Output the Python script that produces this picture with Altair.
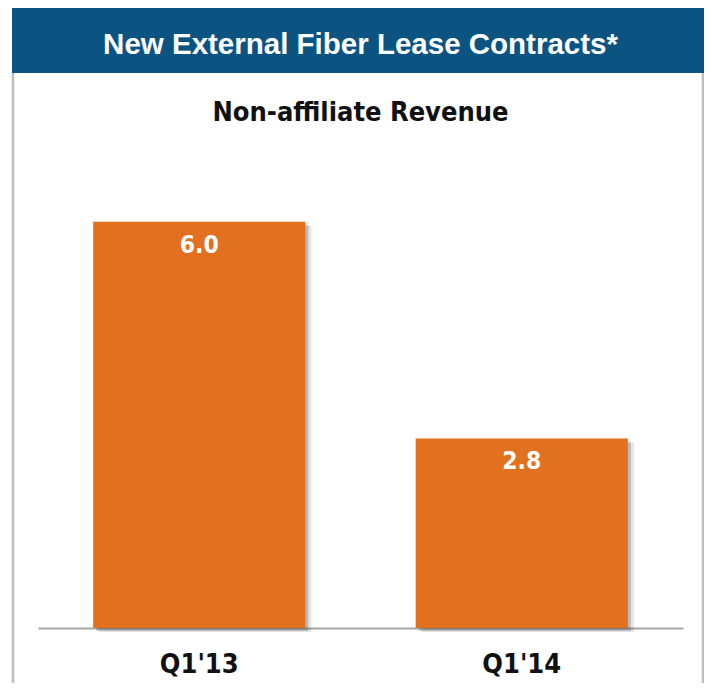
import altair as alt
import pandas as pd

categories = ["Q1'13", "Q1'14"]
values = [6.0, 2.8]
value_labels = ["6.0", "2.8"]
title_text = ["New External Fiber Lease Contracts*"]
subtitle_text = ["Non-affiliate Revenue"]

df = pd.DataFrame({"period": categories, "revenue": values, "label": value_labels})
title_df = pd.DataFrame({"t": title_text})
subtitle_df = pd.DataFrame({"t": subtitle_text})

BLUE = "#0B5482"
ORANGE = "#E1701F"
COND = "DejaVu Sans Condensed"

x = alt.X(
    "period:N",
    sort=categories,
    scale=alt.Scale(paddingInner=0.342, paddingOuter=0.171),
    axis=alt.Axis(
        title=None, ticks=False, labelAngle=0, grid=False,
        labelFont=COND, labelFontWeight="bold", labelFontSize=27,
        labelColor="#111111", labelPadding=23,
        domainColor="#A6A6A6", domainWidth=2,
    ),
)
y = alt.Y("revenue:Q", scale=alt.Scale(domain=[0, 7]), axis=None)

base = alt.Chart(df)

shadow1 = base.mark_bar(color="#000000", opacity=0.10, xOffset=6, yOffset=4).encode(x=x, y=y)
shadow2 = base.mark_bar(color="#000000", opacity=0.18, xOffset=3, yOffset=3).encode(x=x, y=y)
bars = base.mark_bar(color=ORANGE).encode(x=x, y=y)
vals = base.mark_text(
    color="white", font=COND, fontWeight="bold", fontSize=24.5,
    baseline="alphabetic", dy=31,
).encode(x=x, y=y, text="label:N")

header = alt.Chart(title_df).mark_rect(color=BLUE).encode(
    x=alt.value(-26), x2=alt.value(666), y=alt.value(-146), y2=alt.value(-81)
)
header_text = alt.Chart(title_df).mark_text(
    color="white", font="Liberation Sans", fontWeight="bold", fontSize=29.5,
    baseline="alphabetic", align="center",
).encode(x=alt.value(322.5), y=alt.value(-100), text="t:N")

subtitle = alt.Chart(subtitle_df).mark_text(
    color="#111111", font=COND, fontWeight="bold", fontSize=27,
    baseline="alphabetic", align="center",
).encode(x=alt.value(322.5), y=alt.value(-33), text="t:N")

border_l = alt.Chart(title_df).mark_rule(color="#BDBDBD", strokeWidth=2.5).encode(
    x=alt.value(-25), y=alt.value(-81), y2=alt.value(529)
)
border_r = alt.Chart(title_df).mark_rule(color="#BDBDBD", strokeWidth=2.5).encode(
    x=alt.value(665), y=alt.value(-81), y2=alt.value(529)
)

chart = alt.layer(
    header, header_text, subtitle, border_l, border_r, shadow1, shadow2, bars, vals
).properties(
    width=645, height=474,
    autosize=alt.AutoSizeParams(type="none"),
    padding={"left": 30, "top": 146, "right": 21, "bottom": 55},
    background="white",
).configure_view(stroke=None)

chart.save("out.html", embed_options={"renderer": "svg", "actions": False})
